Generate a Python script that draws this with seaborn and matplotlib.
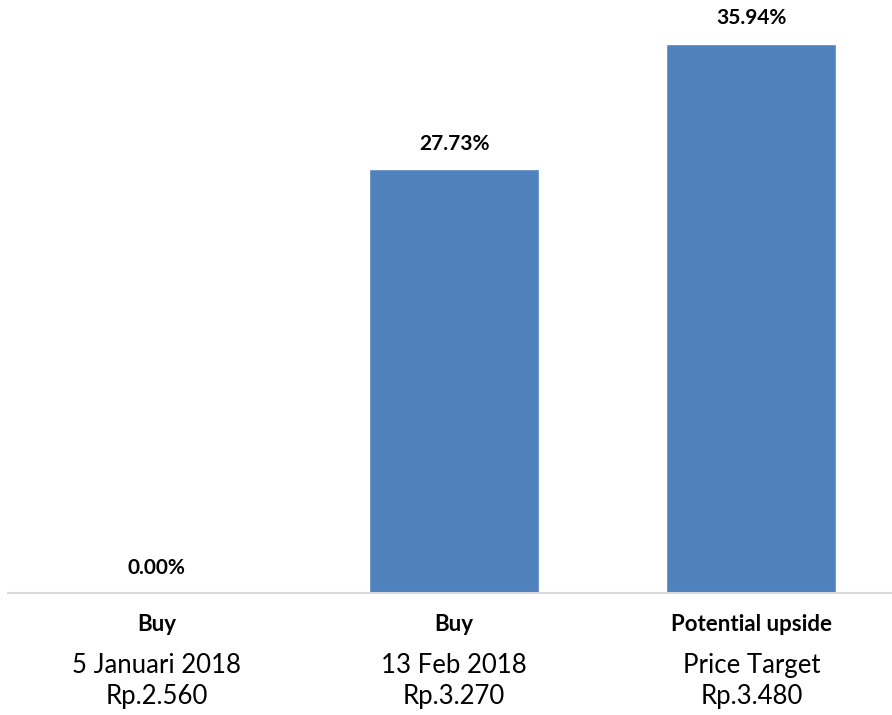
import pandas as pd
import seaborn as sns
import matplotlib.pyplot as plt

sns.set_style('white')
plt.rcParams['font.family'] = ['Lato', 'DejaVu Sans']

# data
categories = ['c1', 'c2', 'c3']
upside = [0.00, 27.73, 35.94]
line1 = ['Buy', 'Buy', 'Potential upside']
line2 = ['5 Januari 2018', '13 Feb 2018', 'Price Target']
line3 = ['Rp.2.560', 'Rp.3.270', 'Rp.3.480']

df = pd.DataFrame({'cat': categories, 'val': upside})

fig = plt.figure(figsize=(8.92, 7.15), dpi=100)
ax = fig.add_axes([8 / 892, 122 / 715, 884 / 892, 593 / 715])

sns.barplot(data=df, x='cat', y='val', color='#4F81BD', saturation=1,
            width=0.571, ax=ax)

ax.set_xlim(-0.5, 2.473)
ax.set_ylim(0, 38.8)
ax.bar_label(ax.containers[0], fmt='%.2f%%', padding=11,
             fontsize=15, fontweight='bold', color='black')

for s in ['top', 'left', 'right']:
    ax.spines[s].set_visible(False)
ax.spines['bottom'].set_color('#D9D9D9')
ax.spines['bottom'].set_linewidth(1.5)
ax.set_xticks([])
ax.set_yticks([])
ax.set_xlabel('')
ax.set_ylabel('')

# three-line category labels under the axis
tr = ax.get_xaxis_transform()
for i in range(len(categories)):
    ax.annotate(line1[i], (i, 0), xycoords=tr, xytext=(0, -23),
                textcoords='offset points', ha='center', va='center',
                fontsize=16, fontweight='bold', color='black')
    ax.annotate(line2[i], (i, 0), xycoords=tr, xytext=(0, -52),
                textcoords='offset points', ha='center', va='center',
                fontsize=18.5, color='black')
    ax.annotate(line3[i], (i, 0), xycoords=tr, xytext=(0, -74.5),
                textcoords='offset points', ha='center', va='center',
                fontsize=18.5, color='black')

plt.savefig('out.png', dpi=100)
